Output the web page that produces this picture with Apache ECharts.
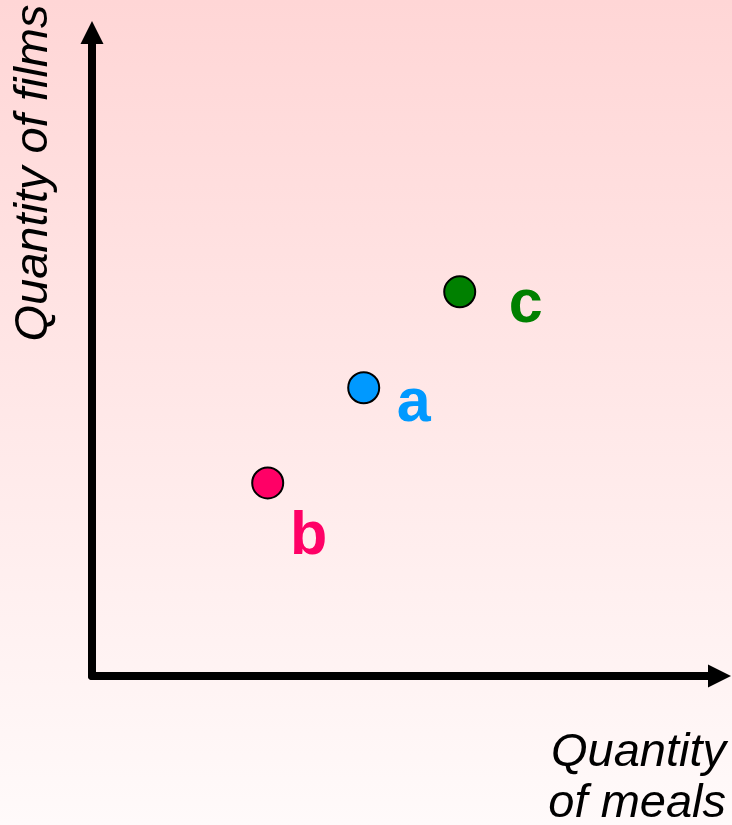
<!DOCTYPE html>
<html>
<head>
<meta charset="utf-8">
<script src="https://cdn.jsdelivr.net/npm/echarts@6/dist/echarts.min.js"></script>
<style>
  html, body { margin: 0; padding: 0; }
  #chart { width: 732px; height: 825px; }
</style>
</head>
<body>
<div id="chart"></div>
<script>
// ---- data ----
const pointNames = ['a', 'b', 'c'];
const mealsQty = [4.33, 2.80, 5.86];   // x values
const filmsQty = [4.48, 3.00, 5.97];   // y values
const xTitle = 'Quantity\nof meals';
const yTitle = 'Quantity of films';

// ---- styles ----
const pointColors = { a: '#0099FF', b: '#FF0066', c: '#008000' };
const labelOffsets = { a: [50, 16], b: [41, 54], c: [66, 13] };

const chart = echarts.init(document.getElementById('chart'), null, { renderer: 'canvas' });

const seriesData = pointNames.map((n, i) => ({
  name: n,
  value: [mealsQty[i], filmsQty[i]],
  itemStyle: { color: pointColors[n] },
  label: { color: pointColors[n], offset: labelOffsets[n] }
}));

const axisCommon = {
  type: 'value',
  min: 0,
  max: 10,
  axisLabel: { show: false },
  axisTick: { show: false },
  splitLine: { show: false },
  axisLine: {
    show: true,
    onZero: false,
    symbol: ['none', 'triangle'],
    symbolSize: [23, 23],
    lineStyle: { color: '#000', width: 8 }
  }
};

chart.setOption({
  animation: false,
  backgroundColor: new echarts.graphic.LinearGradient(0, 0, 0, 1, [
    { offset: 0, color: '#FFD6D6' },
    { offset: 1, color: '#FFFAFA' }
  ]),
  grid: { left: 92, right: 12.5, top: 32.5, bottom: 149 },
  xAxis: axisCommon,
  yAxis: axisCommon,
  series: [{
    type: 'scatter',
    symbol: 'circle',
    symbolSize: 31,
    itemStyle: { borderColor: '#000', borderWidth: 2, opacity: 1 },
    label: {
      show: true,
      position: 'inside',
      formatter: '{b}',
      fontFamily: 'Liberation Sans, Arial, sans-serif',
      fontWeight: 'bold',
      fontSize: 61
    },
    emphasis: { disabled: true },
    data: seriesData
  }],
  graphic: [
    {
      type: 'text',
      x: 34,
      y: 173,
      rotation: Math.PI / 2,
      style: {
        text: yTitle,
        fill: '#000',
        font: 'italic 47px "Liberation Sans", Arial, sans-serif',
        textAlign: 'center',
        textVerticalAlign: 'middle'
      }
    },
    {
      type: 'text',
      x: 726,
      y: 778,
      style: {
        text: xTitle,
        fill: '#000',
        font: 'italic 47px "Liberation Sans", Arial, sans-serif',
        lineHeight: 51,
        textAlign: 'right',
        textVerticalAlign: 'middle'
      }
    }
  ]
});
</script>
</body>
</html>
